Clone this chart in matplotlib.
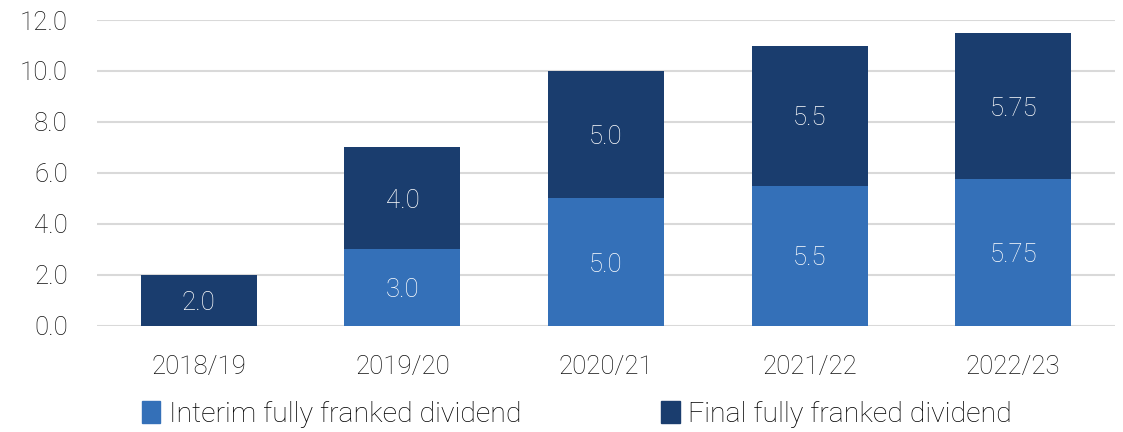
import matplotlib
matplotlib.use("Agg")
import matplotlib.pyplot as plt
from matplotlib.patches import Patch

years = ["2018/19", "2019/20", "2020/21", "2021/22", "2022/23"]
interim = [0.0, 3.0, 5.0, 5.5, 5.75]
final = [2.0, 4.0, 5.0, 5.5, 5.75]
interim_labels = ["", "3.0", "5.0", "5.5", "5.75"]
final_labels = ["2.0", "4.0", "5.0", "5.5", "5.75"]
yticks = [0, 2, 4, 6, 8, 10, 12]

c_interim = "#3470B8"
c_final = "#1A3D6E"

plt.rcParams['font.family'] = ['Roboto', 'DejaVu Sans']
plt.rcParams['font.weight'] = 'light'

fig = plt.figure(figsize=(11.23, 4.32), dpi=100)
ax = fig.add_axes([0.0864, 0.2454, 0.9065, 0.7083])

x = range(len(years))
ax.bar(x, interim, width=0.57, color=c_interim, zorder=3)
ax.bar(x, final, width=0.57, bottom=interim, color=c_final, zorder=3)

for i in x:
    if interim_labels[i]:
        ax.text(i, interim[i] / 2, interim_labels[i], ha='center', va='center_baseline',
                color='white', fontsize=18.5, fontweight='light', zorder=4)
    ax.text(i, interim[i] + final[i] / 2, final_labels[i], ha='center', va='center_baseline',
            color='white', fontsize=18.5, fontweight='light', zorder=4)

ax.set_xlim(-0.5, len(years) - 0.5)
ax.set_ylim(0, 12)
ax.set_yticks(yticks)
ax.set_yticklabels([f"{v:.1f}" for v in yticks])
ax.set_xticks(list(x))
ax.set_xticklabels(years)
ax.tick_params(axis='both', length=0, labelsize=18.5, colors='#111111')
ax.tick_params(axis='y', pad=21)
ax.tick_params(axis='x', pad=21)
ax.grid(axis='y', color='#D9D9D9', linewidth=1.5, zorder=0)
for s in ax.spines.values():
    s.set_visible(False)

handles = [Patch(color=c_interim), Patch(color=c_final)]
fig.legend(handles, ["Interim fully franked dividend", "Final fully franked dividend"],
           loc='center left', bbox_to_anchor=(0.1264, 0.04), ncol=2, frameon=False,
           fontsize=20.5, handlelength=0.65, handleheight=0.8, handletextpad=0.3,
           columnspacing=4.9, borderaxespad=0, borderpad=0)

fig.savefig("out.png", dpi=100)
